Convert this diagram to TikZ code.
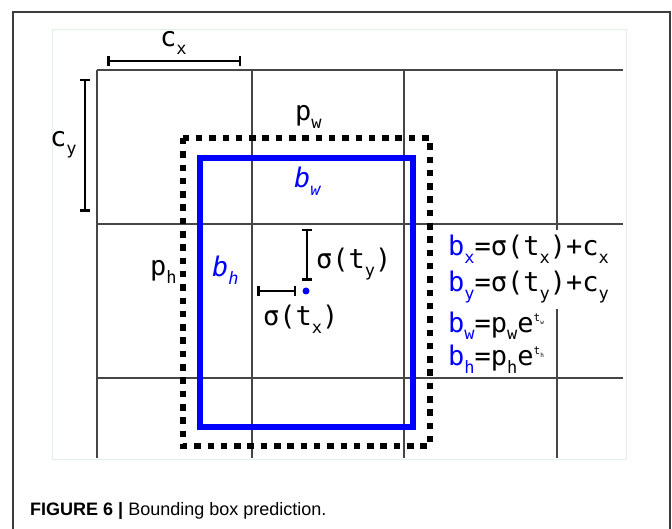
\documentclass[tikz,border=0pt]{standalone}
\usepackage{fontspec}
\setmainfont{Liberation Sans}
\newfontfamily\monofont{DejaVu Sans Mono}
\usepackage{tikz}
\usetikzlibrary{arrows.meta,positioning}

\definecolor{gridgray}{RGB}{70,70,70}
\definecolor{frameedge}{RGB}{60,60,60}
\definecolor{pictedge}{RGB}{226,242,226}
\newcommand{\lo}[1]{\raisebox{-8pt}{\fontsize{17}{17}\selectfont #1}}
\newcommand{\hi}[1]{\raisebox{10pt}{\fontsize{11}{11}\selectfont t\raisebox{-2pt}{\fontsize{6}{6}\selectfont #1}}}

\begin{document}
\begin{tikzpicture}[
        x=1pt, y=-1pt,
        grid/.style={draw=gridgray, line width=1.2pt},
        anchorbox/.style={draw=black, line width=6.5pt, dash pattern=on 6.5pt off 6.8pt},
        predbox/.style={draw=blue, line width=6.5pt},
        lbl/.style={font=\monofont\fontsize{27}{27}\selectfont, inner sep=0pt, anchor=base west},
        blbl/.style={lbl, text=blue},
        eqn/.style={lbl, fill=white, inner xsep=2pt, inner ysep=5pt},
        span/.style={{Bar[width=10pt]}-{Bar[width=10pt]}, line width=2.5pt}
    ]
        \useasboundingbox (0,0) rectangle (672,529);
        % frame and picture area
        \draw[frameedge, line width=1.3pt] (13,529) -- (13,12) -- (670,12) -- (670,529);
        \draw[pictedge, line width=1pt] (52,30) rectangle (626,459);
        % grid cells
        \draw[grid] (97,70) -- (97,458);
        \draw[grid] (252,70) -- (252,458);
        \draw[grid] (404,70) -- (404,458);
        \draw[grid] (557,70) -- (557,458);
        \draw[grid] (97,70) -- (623,70);
        \draw[grid] (97,224) -- (623,224);
        \draw[grid] (97,378) -- (623,378);
        % prior and predicted boxes
        \draw[anchorbox] (183,138) rectangle (430,446);
        \draw[predbox] (200,158) rectangle (413,427);
        \node[circle, fill=blue, inner sep=0pt, minimum size=7pt] (ctr) at (306,291) {};
        % spans
        \coordinate (cxa) at (107,61);
        \coordinate (cxb) at (241,61);
        \coordinate (cya) at (85,79);
        \coordinate (cyb) at (85,212);
        \coordinate (tya) at (307,229);
        \coordinate (tyb) at (307,281);
        \coordinate (txa) at (257,291);
        \draw[span] (cxa) -- (cxb);
        \draw[span] (cya) -- (cyb);
        \draw[span] (tya) -- (tyb);
        \draw[span] (txa) -- ([xshift=-6pt]ctr.west);
        % labels
        \node[lbl] (cx) at (160,47) {c\lo{x}};
        \node[lbl] (cy) at (50,147) {c\lo{y}};
        \node[lbl] (pw) at (295,121) {p\lo{w}};
        \node[blbl] (bw) at (294,188) {\itshape b\lo{w}};
        \node[lbl] (ph) at (150,276) {p\lo{h}};
        \node[blbl] (bh) at (212,277) {\itshape b\lo{h}};
        \node[lbl] (sty) at (316,269) {σ(t\lo{y})};
        \node[lbl] (stx) at (263,326) {σ(t\lo{x})};
        % equations
        \node[eqn] (eqbx) at (446,256) {\textcolor{blue}{b\lo{x}}=σ(t\lo{x})+c\lo{x}};
        \node[eqn] (eqby) at (446,292) {\textcolor{blue}{b\lo{y}}=σ(t\lo{y})+c\lo{y}};
        \node[lbl] (eqbw) at (448,332) {\textcolor{blue}{b\lo{w}}=p\lo{w}e\hi{w}};
        \node[lbl] (eqbh) at (448,365) {\textcolor{blue}{b\lo{h}}=p\lo{h}e\hi{h}};
        % caption
        \node[anchor=base west, inner sep=0pt, font=\fontsize{18}{18}\selectfont] (caption) at (30,515) {\textbf{FIGURE 6 |} Bounding box prediction.};
    \end{tikzpicture}
\end{document}
